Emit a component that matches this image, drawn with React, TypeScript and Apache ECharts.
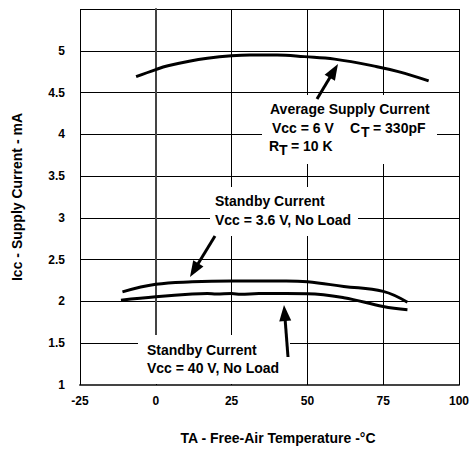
import React, { useEffect, useRef } from "react";
import * as echarts from "echarts";

// Data (temperature in °C, current in mA)
const avgTemp = [-6.5, 0, 4, 11, 17, 25, 31, 40, 49, 59, 73, 80, 90];
const avgCurr = [4.69, 4.775, 4.82, 4.875, 4.91, 4.94, 4.95, 4.95, 4.93, 4.9, 4.81, 4.75, 4.64];

const sb36Temp = [-11, 0, 12, 25, 43, 50, 62, 75, 83];
const sb36Curr = [2.115, 2.205, 2.235, 2.245, 2.245, 2.235, 2.18, 2.12, 1.99];

const sb40Temp = [-11.5, 0, 12, 17, 20, 25, 28, 34, 43, 50, 62, 75, 83];
const sb40Curr = [2.015, 2.055, 2.088, 2.095, 2.088, 2.095, 2.085, 2.095, 2.095, 2.093, 2.045, 1.94, 1.9];

const xTicks = [-25, 0, 25, 50, 75, 100];
const yTicks = [1, 1.5, 2, 2.5, 3, 3.5, 4, 4.5, 5, 5.5];

const FONT = '"Liberation Sans", Arial, sans-serif';

function pairs(xs: number[], ys: number[]) {
  return xs.map((x, i) => [x, ys[i]]);
}

function arrow(tail: [number, number], tip: [number, number]) {
  const dx = tip[0] - tail[0];
  const dy = tip[1] - tail[1];
  const len = Math.sqrt(dx * dx + dy * dy);
  const ux = dx / len;
  const uy = dy / len;
  const hl = 16;
  const hw = 6;
  const bx = tip[0] - ux * hl;
  const by = tip[1] - uy * hl;
  const px = -uy;
  const py = ux;
  return [
    {
      type: "line",
      z: 120,
      shape: { x1: tail[0], y1: tail[1], x2: bx + ux * 2, y2: by + uy * 2 },
      style: { stroke: "#000", lineWidth: 3 },
    },
    {
      type: "polygon",
      z: 120,
      shape: {
        points: [
          [tip[0], tip[1]],
          [bx + px * hw, by + py * hw],
          [bx - px * hw, by - py * hw],
        ],
      },
      style: { fill: "#000" },
    },
  ];
}

function txt(text: string, x: number, y: number) {
  return {
    type: "text",
    z: 110,
    style: {
      text,
      x,
      y,
      font: `bold 14px ${FONT}`,
      fill: "#000",
      align: "left",
      verticalAlign: "middle",
    },
  };
}

function box(x: number, y: number, w: number, h: number) {
  return {
    type: "rect",
    z: 100,
    shape: { x, y, width: w, height: h },
    style: { fill: "#fff" },
  };
}

export default function App() {
  const ref = useRef<HTMLDivElement>(null);
  useEffect(() => {
    if (!ref.current) return;
    const chart = echarts.init(ref.current, undefined, { renderer: "svg" });
    const lineStyle = { color: "#000", width: 3 };
    chart.setOption({
      animation: false,
      backgroundColor: "#fff",
      grid: { left: 80, top: 9, width: 379, height: 378, containLabel: false },
      xAxis: {
        type: "value",
        min: xTicks[0],
        max: xTicks[xTicks.length - 1],
        interval: 25,
        name: "TA - Free-Air Temperature -°C",
        nameLocation: "middle",
        nameGap: 46,
        nameTextStyle: { fontFamily: FONT, fontWeight: "bold", fontSize: 14, color: "#000", padding: [0, 0, 0, 17] },
        axisLine: { lineStyle: { color: "#444", width: 2 } },
        axisTick: { show: true, inside: true, length: 3, lineStyle: { color: "#000" } },
        axisLabel: { fontFamily: FONT, fontWeight: "bold", fontSize: 12, color: "#000", margin: 10 },
        splitLine: { show: true, lineStyle: { color: "#000", width: 1 } },
      },
      yAxis: {
        type: "value",
        min: yTicks[0],
        max: yTicks[yTicks.length - 1],
        interval: 0.5,
        name: "Icc - Supply Current - mA",
        nameLocation: "middle",
        nameGap: 56,
        nameRotate: 90,
        nameTextStyle: { fontFamily: FONT, fontWeight: "bold", fontSize: 14, color: "#000" },
        axisLine: { show: true, lineStyle: { color: "#444", width: 2 } },
        axisTick: { show: false },
        axisLabel: {
          fontFamily: FONT,
          fontWeight: "bold",
          fontSize: 12,
          color: "#000",
          margin: 15,
          formatter: (v: number) => (v === 5.5 ? "" : String(v)),
        },
        splitLine: { show: true, lineStyle: { color: "#000", width: 1 } },
      },
      series: [
        { type: "line", data: pairs(avgTemp, avgCurr), smooth: 0.4, showSymbol: false, lineStyle, z: 5 },
        { type: "line", data: pairs(sb36Temp, sb36Curr), smooth: 0.4, showSymbol: false, lineStyle, z: 5 },
        { type: "line", data: pairs(sb40Temp, sb40Curr), smooth: 0.4, showSymbol: false, lineStyle, z: 5 },
      ],
      graphic: [
        box(262, 95, 175, 69),
        box(210, 187, 148, 49),
        box(138, 335, 152, 49),
        txt("Average Supply Current", 270, 109),
        txt("Vcc = 6 V", 272, 128),
        txt("C", 350, 128),
        txt("T", 361, 132),
        txt("= 330pF", 373, 128),
        txt("R", 269, 145.5),
        txt("T", 279, 149.5),
        txt("= 10 K", 291, 145.5),
        txt("Standby Current", 215, 201),
        txt("Vcc = 3.6 V, No Load", 215, 219.5),
        txt("Standby Current", 147, 349.5),
        txt("Vcc = 40 V, No Load", 147, 367.5),
        ...arrow([317, 99], [338, 64]),
        ...arrow([215, 236], [190, 277]),
        ...arrow([288, 357], [284, 305]),
      ],
    });
    return () => chart.dispose();
  }, []);
  return (
    <div
      ref={ref}
      style={{ position: "fixed", left: 0, top: 0, width: 472, height: 450, background: "#fff" }}
    />
  );
}
